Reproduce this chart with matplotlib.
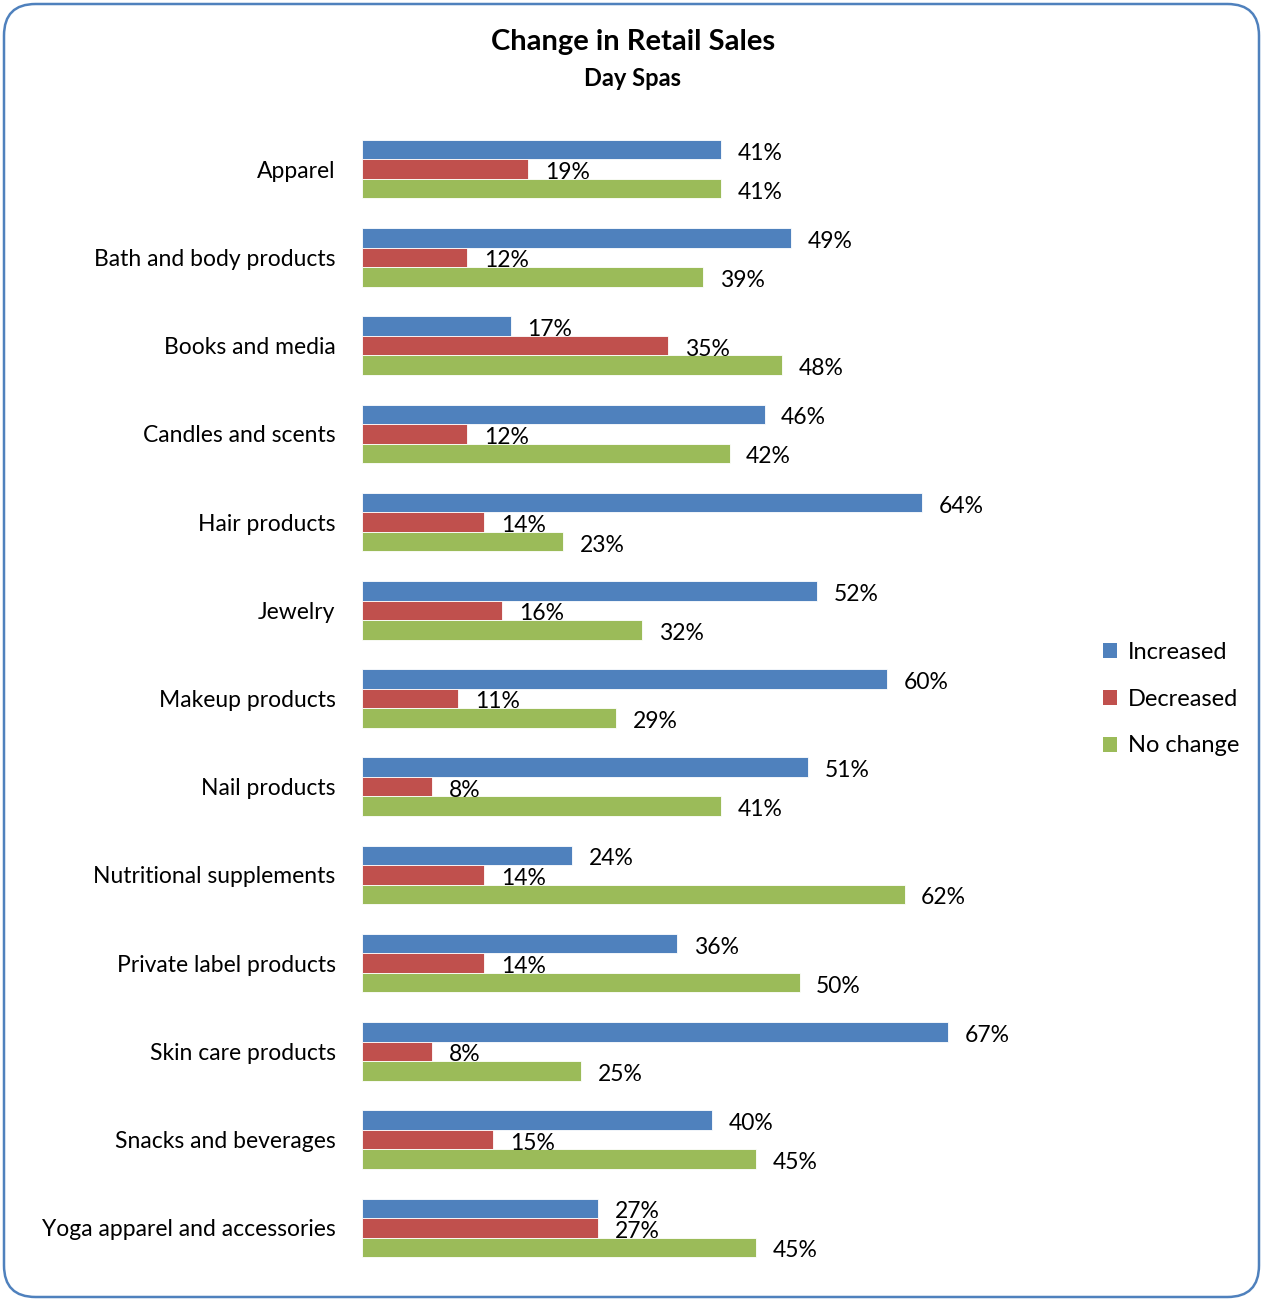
import numpy as np
import matplotlib.pyplot as plt
from matplotlib.patches import FancyBboxPatch, Patch

plt.rcParams['font.family'] = ['Lato', 'DejaVu Sans']

categories = ["Apparel", "Bath and body products", "Books and media", "Candles and scents",
              "Hair products", "Jewelry", "Makeup products", "Nail products",
              "Nutritional supplements", "Private label products", "Skin care products",
              "Snacks and beverages", "Yoga apparel and accessories"]
increased = [41, 49, 17, 46, 64, 52, 60, 51, 24, 36, 67, 40, 27]
decreased = [19, 12, 35, 12, 14, 16, 11, 8, 14, 14, 8, 15, 27]
no_change = [41, 39, 48, 42, 23, 32, 29, 41, 62, 50, 25, 45, 45]

series = [("Increased", increased, "#4F81BD"),
          ("Decreased", decreased, "#C0504D"),
          ("No change", no_change, "#9BBB59")]

W, H = 1263, 1301
fig = plt.figure(figsize=(W / 100, H / 100), dpi=100)

# plot area in pixels: x 362..1062 (0..80%), y 125..1272
ax = fig.add_axes([362 / W, 1 - 1272 / H, 700 / W, (1272 - 125) / H])

y = np.arange(len(categories))
bh = 0.221
for i, (name, vals, col) in enumerate(series):
    bars = ax.barh(y + (i - 1) * bh, vals, height=bh, color=col,
                   edgecolor='white', linewidth=0.6, label=name)
    anns = ax.bar_label(bars, labels=[f"{v}%" for v in vals], padding=12,
                        fontsize=16.5, color='black')
    for a in anns:
        a.xyann = (12, -2.5)

ax.set_xlim(0, 80)
ax.set_ylim(len(categories) - 0.5, -0.5)
ax.set_yticks(y)
ax.set_yticklabels(categories, fontsize=16.5)
ax.tick_params(axis='y', length=0, pad=19)
ax.set_xticks([])
for s in ax.spines.values():
    s.set_visible(False)

fig.text(633 / W, 1 - 42 / H, "Change in Retail Sales", ha='center', va='center',
         fontsize=21, fontweight='bold')
fig.text(632 / W, 1 - 79 / H, "Day Spas", ha='center', va='center',
         fontsize=17, fontweight='bold')

handles = [Patch(facecolor=c, edgecolor='none') for _, _, c in series]
fig.legend(handles, [n for n, _, _ in series], loc='center left',
           bbox_to_anchor=(1082 / W, 1 - 699 / H), frameon=False, fontsize=17,
           handlelength=0.6, handleheight=0.6, handletextpad=0.45, labelspacing=1.1)

border = FancyBboxPatch((4 / W, 4 / H), (W - 8) / W, (H - 8) / H,
                        boxstyle="round,pad=0,rounding_size=0.025",
                        transform=fig.transFigure, fill=False,
                        edgecolor='#4F81BD', linewidth=1.8,
                        mutation_aspect=W / H)
fig.patches.append(border)

fig.savefig("out.png", dpi=100)
